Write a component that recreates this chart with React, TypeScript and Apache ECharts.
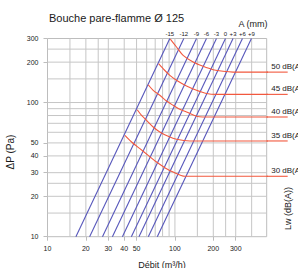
import React, { useEffect, useRef } from "react";
import * as echarts from "echarts";

// Axis ticks / labels
const xTickValues = [10, 20, 30, 40, 50, 100, 200, 300];
const yTickValues = [10, 20, 30, 40, 50, 100, 200, 300];
// Grid lines (besides the frame)
const xGridValues = [15, 20, 25, 30, 40, 50, 60, 70, 80, 90, 100, 150, 200, 250, 300, 400];
const yGridValues = [15, 20, 25, 30, 40, 50, 60, 70, 80, 90, 100, 150, 200, 250];

const xMin = 10;
const xMax = 525;
const yMin = 10;
const yMax = 300;

// Damper setting lines A (mm): flow at ΔP = 10 Pa and at ΔP = 300 Pa
const aLabels = ["-15", "-12", "-9", "-6", "-3", "0", "+3", "+6", "+9"];
const qAtBottom = [16.7, 21.4, 27.0, 32.3, 38.7, 45.5, 52.2, 61.8, 72.7];
const qAtTop = [91.2, 117.4, 147.7, 176.8, 211.8, 249.2, 285.8, 338.7, 398.4];
const dpBottom = 10;
const dpTop = 300;

// Iso-noise curves Lw dB(A): [flow m³/h, ΔP Pa]
const noiseLabels = ["30 dB(A)", "35 dB(A)", "40 dB(A)", "45 dB(A)", "50 dB(A)"];
const noise30 = [[40.5, 57], [45.7, 50.8], [53.1, 45.3], [61.7, 40.4], [71.7, 36], [83.3, 32.7], [96.8, 30.3], [119.6, 28.2], [767, 28.2]];
const noise35 = [[50.6, 88.4], [54.7, 80.3], [59.9, 73.7], [67.5, 65.7], [76.1, 60.3], [88.5, 56], [102.9, 53.2], [130.9, 51.7], [767, 51.7]];
const noise40 = [[61.7, 135.7], [67.5, 123.3], [76.1, 113.2], [86, 102.6], [96.8, 95.3], [109.2, 89], [123.3, 85], [147.7, 79], [165, 78], [767, 78]];
const noise45 = [[74.4, 194.6], [80.8, 178.6], [91.2, 159.5], [105.9, 143.9], [123.3, 132.7], [147.7, 123.3], [176.8, 116.8], [211.8, 115], [767, 115]];
const noise50 = [[92, 297], [102.9, 259.2], [116, 224.8], [138.9, 200.4], [166.3, 186.1], [199.3, 175.6], [238.6, 170.8], [285.8, 168.5], [767, 168.5]];
const noiseCurves = [noise30, noise35, noise40, noise45, noise50];

const GRID_COLOR = "#c6c6c6";
const BLUE = "#5757bb";
const RED = "#f2583e";
const FONT = "Liberation Sans, Arial, sans-serif";

export default function App() {
  const ref = useRef<HTMLDivElement>(null);

  useEffect(() => {
    if (!ref.current) return;
    const chart = echarts.init(ref.current, undefined, { renderer: "svg" });

    const series: any[] = [];
    xGridValues.forEach((v) => {
      series.push({
        type: "line",
        data: [[v, yMin], [v, yMax]],
        showSymbol: false,
        silent: true,
        z: 1,
        lineStyle: { color: GRID_COLOR, width: 1 },
      });
    });
    yGridValues.forEach((v) => {
      series.push({
        type: "line",
        data: [[xMin, v], [xMax, v]],
        showSymbol: false,
        silent: true,
        z: 1,
        lineStyle: { color: GRID_COLOR, width: 1 },
      });
    });
    aLabels.forEach((_, i) => {
      series.push({
        type: "line",
        data: [[qAtBottom[i], dpBottom], [qAtTop[i], dpTop]],
        showSymbol: false,
        silent: true,
        z: 3,
        lineStyle: { color: BLUE, width: 1.1 },
      });
    });
    noiseCurves.forEach((c) => {
      series.push({
        type: "line",
        data: c,
        showSymbol: false,
        smooth: 0.3,
        clip: false,
        silent: true,
        z: 4,
        lineStyle: { color: RED, width: 1.1 },
      });
    });

    const labelStyle = { fontSize: 7, color: "#222", fontFamily: FONT };

    chart.setOption({
      animation: false,
      grid: {
        left: 47.5,
        top: 38.5,
        width: 219.2,
        height: 198.2,
        show: true,
        borderColor: "#bdbdbd",
        borderWidth: 1,
      },
      xAxis: {
        type: "log",
        logBase: 10,
        min: xMin,
        max: xMax,
        axisLine: { show: false },
        splitLine: { show: false },
        minorSplitLine: { show: false },
        axisTick: { show: true, length: 4, lineStyle: { color: "#bdbdbd" }, customValues: xTickValues },
        axisLabel: { ...labelStyle, margin: 8, customValues: xTickValues, formatter: (v: number) => String(Math.round(v)) },
      },
      yAxis: {
        type: "log",
        logBase: 10,
        min: yMin,
        max: yMax,
        axisLine: { show: false },
        splitLine: { show: false },
        axisTick: { show: true, length: 4, lineStyle: { color: "#bdbdbd" }, customValues: yTickValues },
        axisLabel: { ...labelStyle, margin: 9, customValues: yTickValues, formatter: (v: number) => String(Math.round(v)) },
      },
      series,
    });

    const px = (q: number, p: number) => chart.convertToPixel({ gridIndex: 0 }, [q, p]) as number[];

    const graphics: any[] = [
      {
        type: "text",
        x: 49,
        y: 18,
        style: { text: "Bouche pare-flamme Ø 125", fontSize: 11, fontFamily: FONT, fill: "#1a1a1a", align: "left", verticalAlign: "middle" },
      },
      {
        type: "text",
        x: 253,
        y: 23.5,
        style: { text: "A (mm)", fontSize: 9, fontFamily: FONT, fill: "#1a1a1a", align: "center", verticalAlign: "middle" },
      },
      {
        type: "text",
        x: 10,
        y: 152,
        rotation: Math.PI / 2,
        style: { text: "ΔP (Pa)", fontSize: 10, fontFamily: FONT, fill: "#1a1a1a", align: "center", verticalAlign: "middle" },
      },
      {
        type: "text",
        x: 288,
        y: 208.5,
        rotation: Math.PI / 2,
        style: { text: "Lw (dB(A))", fontSize: 9, fontFamily: FONT, fill: "#1a1a1a", align: "center", verticalAlign: "middle" },
      },
      {
        type: "text",
        x: 162,
        y: 265,
        style: { text: "Débit (m³/h)", fontSize: 9, fontFamily: FONT, fill: "#1a1a1a", align: "center", verticalAlign: "middle" },
      },
    ];
    aLabels.forEach((t, i) => {
      const p = px(qAtTop[i], dpTop);
      graphics.push({
        type: "text",
        x: p[0],
        y: p[1] - 4.5,
        style: { text: t, fontSize: 6, fontFamily: FONT, fill: "#1a1a1a", align: "center", verticalAlign: "middle" },
      });
    });
    noiseCurves.forEach((c, i) => {
      const last = c[c.length - 1];
      const p = px(xMax, last[1]);
      const e = px(last[0], last[1]);
      graphics.push({
        type: "line",
        silent: true,
        shape: { x1: p[0], y1: p[1], x2: e[0], y2: e[1] },
        style: { stroke: RED, lineWidth: 1.1 },
      });
      graphics.push({
        type: "text",
        x: p[0] + 4.5,
        y: p[1] - 5.5,
        style: { text: noiseLabels[i], fontSize: 8, fontFamily: FONT, fill: "#1a1a1a", align: "left", verticalAlign: "middle" },
      });
    });
    chart.setOption({ graphic: graphics });

    return () => chart.dispose();
  }, []);

  return <div ref={ref} style={{ position: "absolute", left: 0, top: 0, width: 298, height: 268 }} />;
}
